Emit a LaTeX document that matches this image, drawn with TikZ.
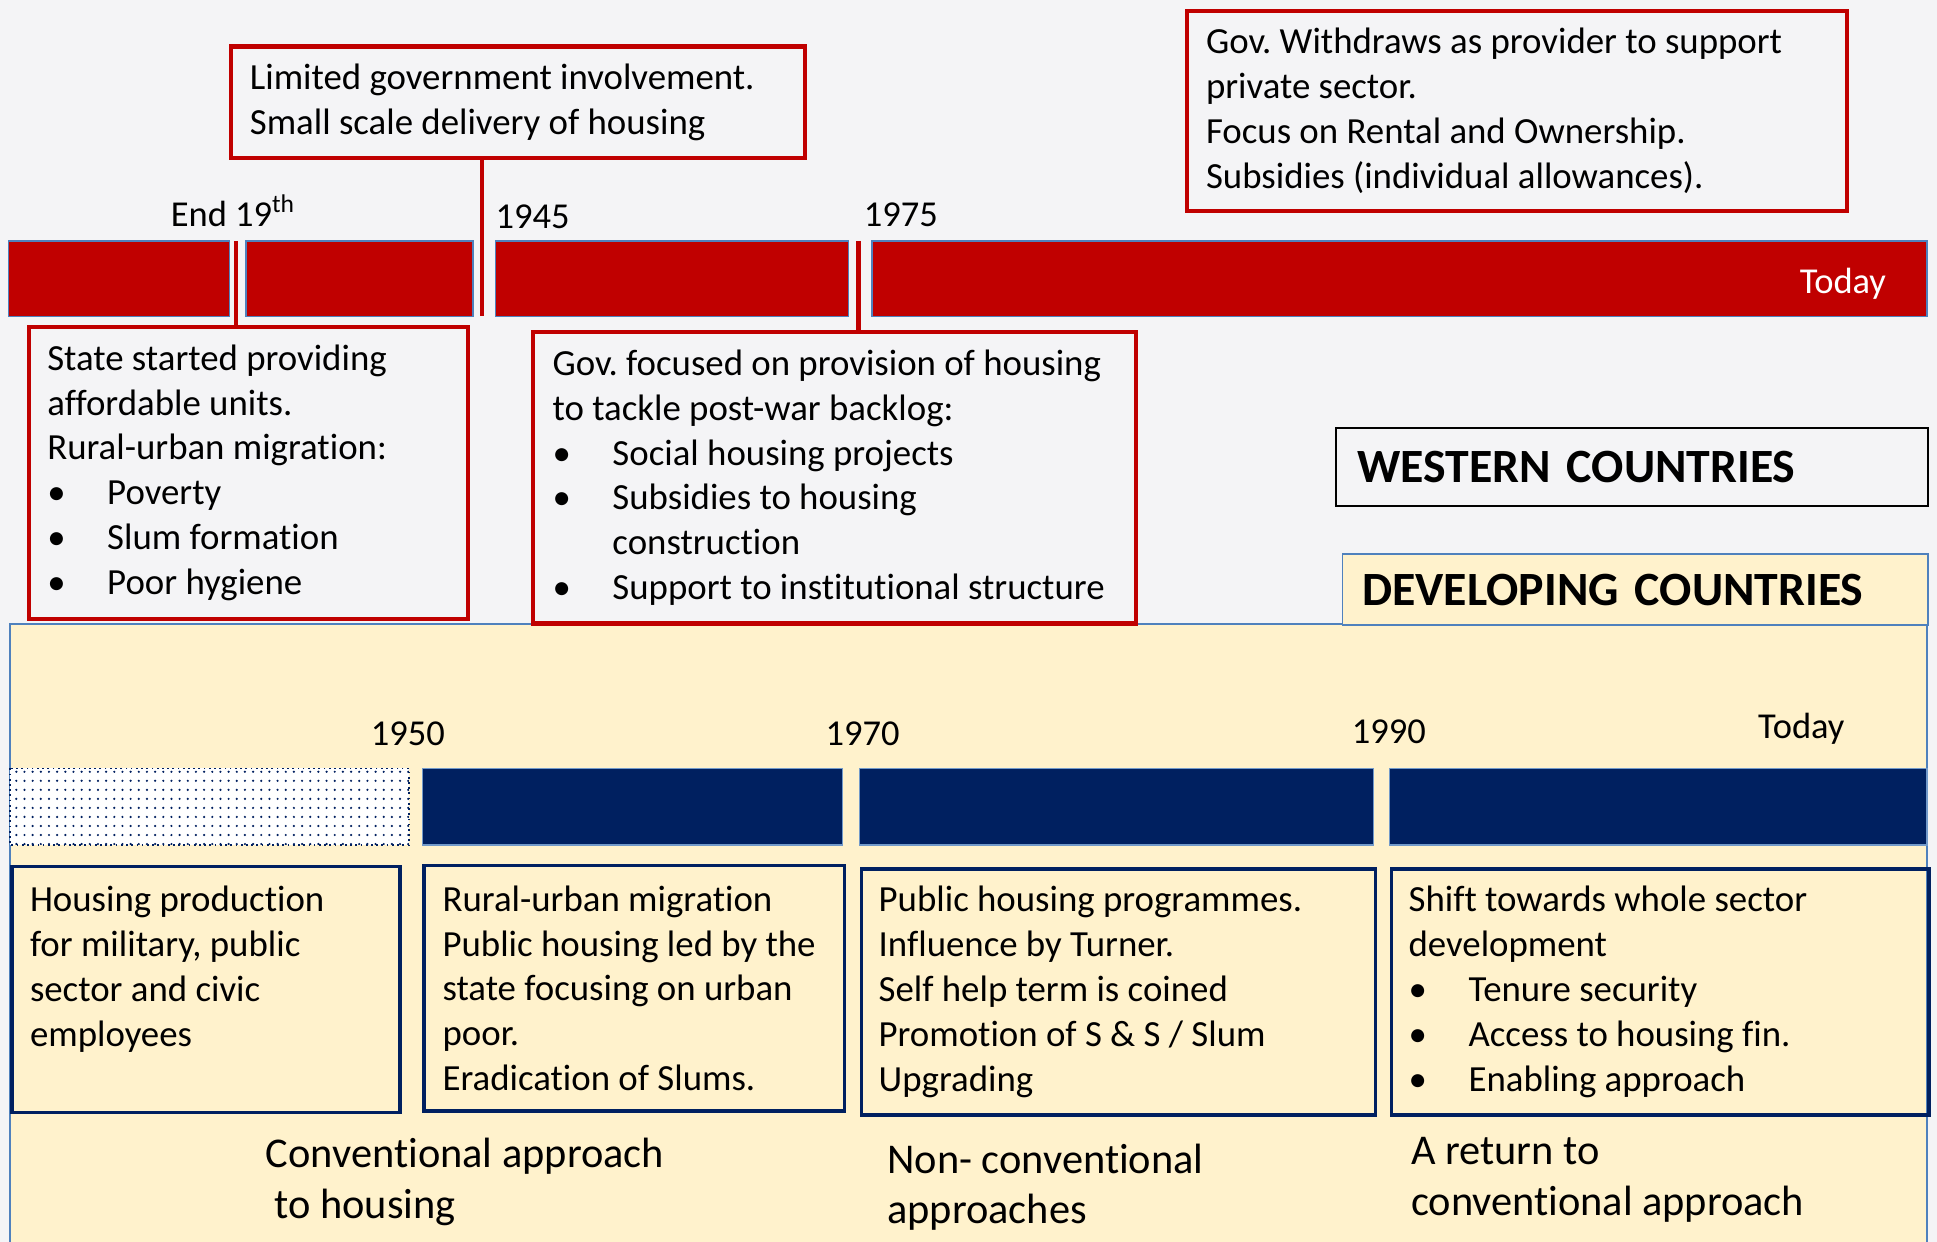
\documentclass[tikz,border=0pt]{standalone}
\usepackage{fontspec}
\setmainfont{Carlito}[Ligatures={TeX,NoCommon}]
\usetikzlibrary{positioning, patterns}
\definecolor{BarRed}{HTML}{C00000}
\definecolor{DeepNavy}{HTML}{002060}
\definecolor{EdgeBlue}{HTML}{4F81BD}
\definecolor{Cream}{HTML}{FFF2CC}
\definecolor{PaleGrey}{HTML}{F4F4F6}
\frenchspacing
\newcommand{\bpt}{\makebox[34.5pt][l]{•}}
\pgfdeclarepatternformonly{smalldots}{\pgfqpoint{-1pt}{-1pt}}{\pgfqpoint{1pt}{1pt}}{\pgfqpoint{4.7pt}{5.2pt}}{%
  \pgfpathcircle{\pgfpointorigin}{0.7pt}\pgfusepath{fill}}

\tikzset{
  redframe/.style={draw=BarRed, line width=2.4pt, inner sep=0pt, anchor=north west},
  navyframe/.style={draw=DeepNavy, line width=2.1pt, inner sep=0pt, anchor=north west},
  boxtext/.style={font=\fontsize{21.2}{25.8}\selectfont, align=left, inner sep=0pt},
  yearlabel/.style={font=\fontsize{21}{25.8}\selectfont, inner sep=0pt, anchor=base west},
  headbox/.style={anchor=north west, align=left, inner ysep=0pt, line width=1pt,
    font=\fontsize{27.5}{33}\selectfont\bfseries},
  phase/.style={font=\fontsize{24.4}{29.2}\selectfont, align=left, inner sep=0pt, anchor=west},
  tick/.style={BarRed, line width=2.6pt},
}

\begin{document}
\begin{tikzpicture}[x=0.025cm, y=-0.025cm]

% fondo
\useasboundingbox (0,0) rectangle (1568,1005);
\fill[PaleGrey] (0,0) rectangle (1568,1005);
\filldraw[fill=Cream, draw=EdgeBlue, line width=1pt] (8,505) rectangle (1560,1020);

% barras
\foreach \a/\b in {7/186, 199/383, 401/687, 706/1560}
    \filldraw[fill=BarRed, draw=EdgeBlue, line width=0.8pt] (\a,195) rectangle (\b,256);
\fill[white] (8,622) rectangle (331,684);
\draw[DeepNavy, line width=1pt, dotted, pattern=smalldots, pattern color=DeepNavy] (8,622) rectangle (331,684);
\foreach \a/\b in {342/682, 696/1112, 1125/1560}
    \filldraw[fill=DeepNavy, draw=EdgeBlue!80, line width=0.8pt] (\a,622) rectangle (\b,684);

% titulos
\node[headbox, draw=black, minimum height=1.575cm, text width=11.125cm, inner xsep=4.25mm] (western) at (1081,346)
    {WESTERN COUNTRIES};
\node[headbox, fill=Cream, draw=EdgeBlue, minimum height=1.425cm, text width=11.05cm, inner xsep=4mm] (developing) at (1086,448)
    {DEVELOPING COUNTRIES};

% cajas arriba
\node[redframe, minimum width=11.625cm, minimum height=2.25cm] (limited) at (185,36) {};
\node[boxtext, right=4.25mm of limited.west] (limitedTxt)
    {Limited government involvement.\\Small scale delivery of housing};

\node[redframe, minimum width=13.35cm, minimum height=4.05cm] (withdraw) at (959,7) {};
\node[boxtext, right=4.25mm of withdraw.west] (withdrawTxt)
    {Gov. Withdraws as provider to support\\private sector.\\Focus on Rental and Ownership.\\Subsidies (individual allowances).};

\node[redframe, minimum width=8.875cm, minimum height=5.9cm] (state) at (22,263) {};
\node[boxtext, right=4mm of state.west] (stateTxt)
    {State started providing\\affordable units.\\Rural-urban migration:\\\bpt Poverty\\\bpt Slum formation\\\bpt Poor hygiene};

\node[redframe, minimum width=12.2cm, minimum height=5.9cm] (focus) at (430,267) {};
\node[boxtext, right=4.25mm of focus.west] (focusTxt)
    {Gov. focused on provision of housing\\to tackle post-war backlog:\\\bpt Social housing projects\\\bpt Subsidies to housing\\
     \hspace*{34.5pt}construction\\\bpt Support to institutional structure};

% marcas
\coordinate (mark19) at (191,195);
\coordinate (mark45) at (390,256);
\coordinate (mark75) at (695,195);
\draw[tick] (mark19) -- (mark19 |- state.north);
\draw[tick] (limited.south -| mark45) -- (mark45);
\draw[tick] (mark75) -- (mark75 |- focus.north);

% anos
\node[yearlabel] (endXIX) at (138,183) {End 19\textsuperscript{th}};
\node[yearlabel] (y1945) at (401,185) {1945};
\node[yearlabel] (y1975) at (699,183.5) {1975};
\node[yearlabel, text=white, anchor=base east] (todayW) at (1527,237.5) {Today};
\node[yearlabel] (y1950) at (300,603.5) {1950};
\node[yearlabel] (y1970) at (668,603.5) {1970};
\node[yearlabel] (y1990) at (1094,601.5) {1990};
\node[yearlabel] (todayD) at (1423,597.5) {Today};

% cajas abajo
\node[navyframe, minimum width=7.85cm, minimum height=4.975cm] (dev1) at (8,700) {};
\node[boxtext, anchor=north west, below right=4.3mm and 4mm of dev1.north west] (dev1Txt)
    {Housing production\\for military, public\\sector and civic\\employees};

\node[navyframe, minimum width=8.5cm, minimum height=4.975cm] (dev2) at (342,699) {};
\node[boxtext, right=4mm of dev2.west] (dev2Txt)
    {Rural-urban migration\\Public housing led by the\\state focusing on urban\\poor.\\Eradication of Slums.};

\node[navyframe, minimum width=10.4cm, minimum height=4.975cm] (dev3) at (696,702) {};
\node[boxtext, right=3.75mm of dev3.west] (dev3Txt)
    {Public housing programmes.\\Influence by Turner.\\Self help term is coined\\Promotion of S \& S / Slum\\Upgrading};

\node[navyframe, minimum width=10.875cm, minimum height=4.975cm] (dev4) at (1125,702) {};
\node[boxtext, right=3.75mm of dev4.west] (dev4Txt)
    {Shift towards whole sector\\development\\\bpt Tenure security\\\bpt Access to housing fin.\\\bpt Enabling approach};

% enfoques
\node[phase] (conv) at (215,956.5) {Conventional approach\\\hspace*{5pt}to housing};
\node[phase] (nonconv) at (718,961) {Non- conventional\\approaches};
\node[phase] (back) at (1142,955) {A return to\\conventional approach};

\end{tikzpicture}
\end{document}
